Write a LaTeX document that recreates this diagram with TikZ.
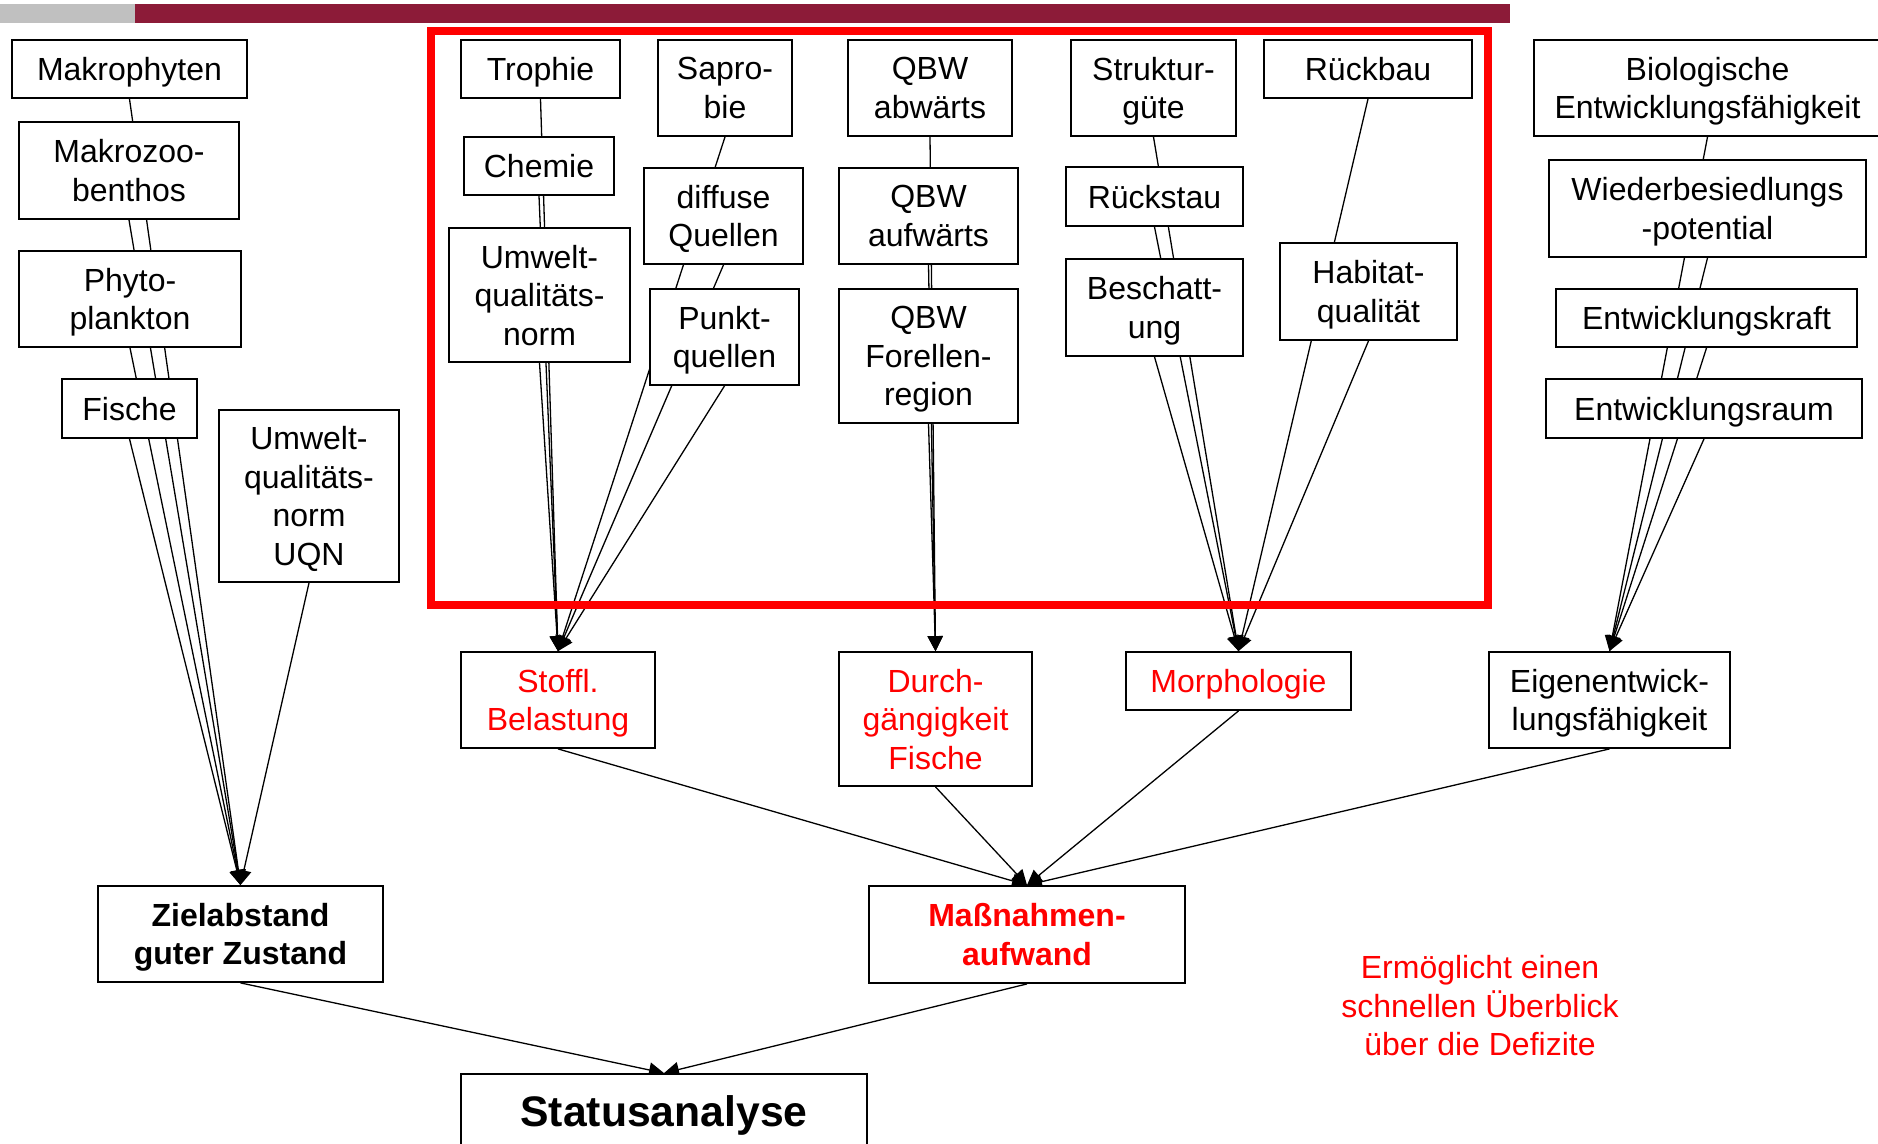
\documentclass[tikz,border=0pt]{standalone}
\usepackage{fontspec}
\setmainfont{Liberation Sans}
\usetikzlibrary{arrows.meta}
\definecolor{barred}{RGB}{140,27,56}
\definecolor{bargray}{RGB}{192,192,192}
\pgfdeclarelayer{lines}
\pgfdeclarelayer{frame}
\pgfsetlayers{lines,frame,main}
\begin{document}
\begin{tikzpicture}[x=1pt,y=-1pt,
  box/.style={draw, line width=1.8pt, fill=white, inner sep=0pt, align=center,
    text depth=0pt, font=\fontsize{32}{38.5}\selectfont},
  redbox/.style={box, text=red},
  conn/.style={line width=1.3pt, -{Triangle[length=15pt,width=15pt]}},
  hint/.style={text=red, align=center, font=\fontsize{32}{38.5}\selectfont, inner sep=0pt},
]
\useasboundingbox (0,0) rectangle (1878,1143);
\fill[bargray] (0,3.5) rectangle (135,22.5);
\fill[barred] (135,3.5) rectangle (1510,22.5);

% left column
\node[box, minimum width=235pt, minimum height=58pt] (makroph) at (129.5,69) {Makrophyten};
\node[box, minimum width=220pt, minimum height=97pt] (makrozoo) at (129,170.5) {Makrozoo-\\benthos};
\node[box, minimum width=222pt, minimum height=96pt] (phyto) at (130,299) {Phyto-\\plankton};
\node[box, minimum width=135pt, minimum height=59pt] (fische) at (129.5,408.5) {Fische};
\node[box, minimum width=180pt, minimum height=172pt] (uqn) at (309,496) {Umwelt-\\qualitäts-\\norm\\UQN};

% Stoffl. group
\node[box, minimum width=159pt, minimum height=58pt] (trophie) at (540.5,69) {Trophie};
\node[box, minimum width=150pt, minimum height=58pt] (chemie) at (539,166) {Chemie};
\node[box, minimum width=181pt, minimum height=134pt] (umweltq) at (539.5,295) {Umwelt-\\qualitäts-\\norm};
\node[box, minimum width=134pt, minimum height=96pt] (saprobie) at (725,88) {Sapro-\\bie};
\node[box, minimum width=159pt, minimum height=96pt] (diffuse) at (723.5,216) {diffuse\\Quellen};
\node[box, minimum width=149pt, minimum height=96pt] (punkt) at (724.5,337) {Punkt-\\quellen};

% Durchgaengigkeit group
\node[box, minimum width=164pt, minimum height=96pt] (qbwab) at (930,88) {QBW\\abwärts};
\node[box, minimum width=179pt, minimum height=96pt] (qbwauf) at (928.5,216) {QBW\\aufwärts};
\node[box, minimum width=179pt, minimum height=134pt] (qbwfor) at (928.5,356) {QBW\\Forellen-\\region};

% Morphologie group
\node[box, minimum width=165pt, minimum height=96pt] (struktur) at (1153.5,88) {Struktur-\\güte};
\node[box, minimum width=208pt, minimum height=58pt] (rueckbau) at (1368,69) {Rückbau};
\node[box, minimum width=177pt, minimum height=59pt] (rueckstau) at (1154.5,196.5) {Rückstau};
\node[box, minimum width=177pt, minimum height=97pt] (beschatt) at (1154.5,307.5) {Beschatt-\\ung};
\node[box, minimum width=177pt, minimum height=97pt] (habitat) at (1368.5,291.5) {Habitat-\\qualität};

% Eigenentwicklung group
\node[box, minimum width=347pt, minimum height=96pt] (biolog) at (1707.5,88) {Biologische\\Entwicklungsfähigkeit};
\node[box, minimum width=317pt, minimum height=97pt] (wieder) at (1707.5,208.5) {Wiederbesiedlungs\\-potential};
\node[box, minimum width=301pt, minimum height=58pt] (ekraft) at (1706.5,318) {Entwicklungskraft};
\node[box, minimum width=316pt, minimum height=59pt] (eraum) at (1704,408.5) {Entwicklungsraum};

% second level
\node[redbox, minimum width=194pt, minimum height=96pt] (stoffl) at (558,700) {Stoffl.\\Belastung};
\node[redbox, minimum width=193pt, minimum height=134pt] (durch) at (935.5,719) {Durch-\\gängigkeit\\Fische};
\node[redbox, minimum width=225pt, minimum height=58pt] (morph) at (1238.5,681) {Morphologie};
\node[box, minimum width=241pt, minimum height=96pt] (eigen) at (1609.5,700) {Eigenentwick-\\lungsfähigkeit};

% third level
\node[box, minimum width=285pt, minimum height=96pt, font=\bfseries\fontsize{32}{38.5}\selectfont] (ziel) at (240.5,934) {Zielabstand\\guter Zustand};
\node[redbox, minimum width=316pt, minimum height=97pt, font=\bfseries\fontsize{32}{38.5}\selectfont] (mass) at (1027,934.5) {Maßnahmen-\\aufwand};
\node[box, minimum width=406pt, minimum height=74pt, font=\bfseries\fontsize{42.7}{48}\selectfont] (status) at (664,1111) {Statusanalyse};

\node[hint] (note) at (1480,1006) {Ermöglicht einen\\schnellen Überblick\\über die Defizite};

\begin{pgfonlayer}{lines}
  \foreach \s in {makroph,makrozoo,phyto,fische,uqn}
    \draw[conn] (\s.south) -- (ziel.north);
  \foreach \s in {trophie,chemie,umweltq,saprobie,diffuse,punkt}
    \draw[conn] (\s.south) -- (stoffl.north);
  \foreach \s in {qbwab,qbwauf,qbwfor}
    \draw[conn] (\s.south) -- (durch.north);
  \foreach \s in {struktur,rueckstau,beschatt,rueckbau,habitat}
    \draw[conn] (\s.south) -- (morph.north);
  \foreach \s in {biolog,wieder,ekraft,eraum}
    \draw[conn] (\s.south) -- (eigen.north);
  \foreach \s in {stoffl,durch,morph,eigen}
    \draw[conn] (\s.south) -- (mass.north);
  \foreach \s in {ziel,mass}
    \draw[conn] (\s.south) -- (status.north);
\end{pgfonlayer}

\begin{pgfonlayer}{frame}
  \draw[red, line width=8pt] (431,31) rectangle (1488,604.5);
\end{pgfonlayer}
\end{tikzpicture}
\end{document}
